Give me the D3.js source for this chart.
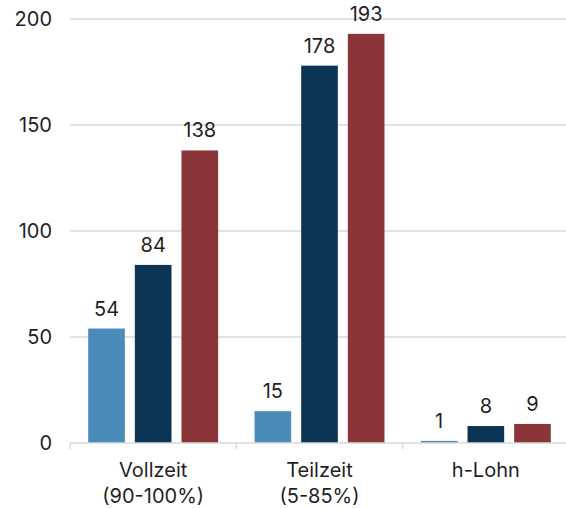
<!DOCTYPE html>
<html>
<head>
<meta charset="utf-8">
<script src="https://cdn.jsdelivr.net/npm/d3@7"></script>
<style>
  html, body { margin: 0; padding: 0; background: #fff; }
  svg { display: block; }
  text { font-family: Inter, "Noto Sans", sans-serif; fill: #1f1f1f; }
</style>
</head>
<body>
<svg id="chart" width="566" height="509"></svg>
<script>
// Categories (two-line labels) and the three series
const categories = ["Vollzeit|(90-100%)", "Teilzeit|(5-85%)", "h-Lohn"];
const seriesNames = ["A", "B", "C"];
const seriesA = [54, 15, 1];
const seriesB = [84, 178, 8];
const seriesC = [138, 193, 9];
const yTicks = [0, 50, 100, 150, 200];
const colors = ["#4b8bba", "#0c3555", "#8a3538"];

const series = [seriesA, seriesB, seriesC];
const svg = d3.select("#chart");

const plotLeft = 70, plotRight = 569, plotTop = 19, plotBottom = 443;

const x0 = d3.scaleBand().domain(categories).range([plotLeft, plotRight]).padding(0);
const x1 = d3.scaleBand().domain(seriesNames).range([0, x0.bandwidth()])
  .paddingInner(0.214).paddingOuter(0.39);
const y = d3.scaleLinear().domain([0, 200]).range([plotBottom, plotTop]);

// horizontal gridlines
svg.append("g").selectAll("line").data(yTicks.filter(d => d > 0)).join("line")
  .attr("x1", plotLeft).attr("x2", plotRight)
  .attr("y1", d => y(d)).attr("y2", d => y(d))
  .attr("stroke", "#d9d9d9").attr("stroke-width", 1.5);

// y tick labels
svg.append("g").selectAll("text").data(yTicks).join("text")
  .attr("x", 52).attr("y", d => y(d)).attr("dy", "0.36em")
  .attr("text-anchor", "end").attr("font-size", 20)
  .text(d => d);

// bars
const groups = svg.append("g").selectAll("g").data(categories).join("g")
  .attr("transform", c => `translate(${x0(c)},0)`);

groups.each(function(c, i) {
  const g = d3.select(this);
  seriesNames.forEach((s, j) => {
    const v = series[j][i];
    g.append("rect")
      .attr("x", x1(s)).attr("width", x1.bandwidth())
      .attr("y", y(v)).attr("height", plotBottom - y(v))
      .attr("fill", colors[j]);
    g.append("text")
      .attr("x", x1(s) + x1.bandwidth() / 2)
      .attr("y", y(v) - 13)
      .attr("text-anchor", "middle").attr("font-size", 20)
      .text(v);
  });
});

// baseline axis with group-boundary ticks
svg.append("line")
  .attr("x1", plotLeft).attr("x2", plotRight).attr("y1", plotBottom).attr("y2", plotBottom)
  .attr("stroke", "#d9d9d9").attr("stroke-width", 1.5);
const bounds = categories.map(c => x0(c)).concat([plotRight]);
svg.append("g").selectAll("line").data(bounds).join("line")
  .attr("x1", d => d).attr("x2", d => d)
  .attr("y1", plotBottom).attr("y2", plotBottom + 6)
  .attr("stroke", "#d9d9d9").attr("stroke-width", 1.5);

// category labels
svg.append("g").selectAll("text").data(categories).join("text")
  .attr("x", c => x0(c) + x0.bandwidth() / 2)
  .attr("y", 477)
  .attr("text-anchor", "middle").attr("font-size", 20)
  .each(function(c) {
    const t = d3.select(this);
    c.split("|").forEach((line, k) => {
      t.append("tspan").attr("x", x0(c) + x0.bandwidth() / 2)
        .attr("dy", k === 0 ? 0 : 26).text(line);
    });
  });
</script>
</body>
</html>
